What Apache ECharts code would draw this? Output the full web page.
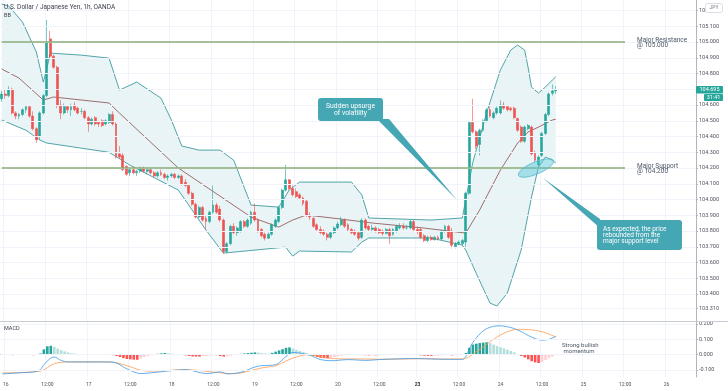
<!DOCTYPE html>
<html><head><meta charset="utf-8">
<script src="https://cdn.jsdelivr.net/npm/echarts@6/dist/echarts.min.js"></script>
<style>html,body{margin:0;padding:0;background:#fff}#c{width:728px;height:391px}</style>
</head><body><div id="c"></div>
<script>
// ---- data ----
const sessions = [[15,23,23],[16,0,23],[17,0,23],[18,0,23],[19,0,23],[20,0,20],[22,22,23],[23,0,23],[24,0,23],[25,0,23],[26,0,8]];
const weekStartDays = ['23'];
// candles: [open, high, low, close]
const candles = [
[104.64,104.69,104.62,104.67],[104.67,104.70,104.64,104.66],[104.66,104.72,104.65,104.70],[104.70,104.71,104.54,104.55],
[104.55,104.56,104.51,104.53],[104.53,104.55,104.51,104.54],[104.54,104.58,104.53,104.57],[104.57,104.60,104.55,104.59],
[104.59,104.60,104.52,104.53],[104.53,104.56,104.44,104.45],[104.45,104.46,104.36,104.38],[104.40,104.56,104.38,104.55],
[104.55,104.67,104.54,104.66],[104.66,105.14,104.65,105.00],[105.02,105.07,104.89,104.91],[104.91,104.92,104.83,104.84],
[104.84,104.85,104.58,104.60],[104.60,104.63,104.51,104.55],[104.55,104.61,104.54,104.59],[104.59,104.60,104.55,104.57],
[104.57,104.61,104.53,104.59],[104.60,104.62,104.56,104.57],[104.58,104.59,104.54,104.55],[104.56,104.58,104.54,104.56],
[104.56,104.57,104.51,104.52],[104.52,104.53,104.43,104.48],[104.48,104.52,104.47,104.51],[104.52,104.53,104.47,104.48],
[104.49,104.50,104.46,104.48],[104.50,104.51,104.46,104.47],[104.48,104.51,104.47,104.50],[104.49,104.55,104.48,104.54],
[104.54,104.56,104.47,104.48],[104.48,104.49,104.26,104.27],[104.29,104.34,104.26,104.27],[104.28,104.30,104.18,104.19],
[104.21,104.22,104.15,104.16],[104.17,104.20,104.15,104.19],[104.19,104.21,104.16,104.17],[104.17,104.19,104.15,104.18],
[104.18,104.21,104.17,104.20],[104.20,104.21,104.17,104.18],[104.18,104.20,104.16,104.19],[104.19,104.20,104.16,104.17],
[104.17,104.18,104.14,104.15],[104.15,104.18,104.14,104.17],[104.17,104.19,104.15,104.16],[104.16,104.17,104.13,104.14],
[104.14,104.16,104.12,104.15],[104.15,104.17,104.14,104.16],[104.16,104.17,104.13,104.14],[104.14,104.16,104.13,104.15],
[104.15,104.16,104.09,104.10],[104.11,104.13,104.08,104.09],[104.09,104.10,104.03,104.04],[104.04,104.05,103.96,103.97],
[103.97,103.98,103.88,103.89],[103.89,103.96,103.88,103.95],[103.95,103.96,103.86,103.87],[103.88,103.90,103.81,103.86],
[103.86,103.93,103.85,103.92],[103.92,104.09,103.91,103.965],[103.965,103.98,103.91,103.92],[103.94,103.96,103.86,103.87],
[103.87,103.88,103.655,103.67],[103.67,103.73,103.66,103.72],[103.72,103.84,103.71,103.83],[103.83,103.85,103.78,103.79],
[103.79,103.83,103.77,103.82],[103.80,103.87,103.79,103.86],[103.86,103.87,103.82,103.83],[103.83,103.88,103.82,103.87],
[103.85,103.93,103.84,103.92],[103.92,103.975,103.86,103.87],[103.87,103.88,103.79,103.80],[103.81,103.82,103.76,103.77],
[103.78,103.79,103.74,103.755],[103.755,103.79,103.75,103.78],[103.78,103.85,103.77,103.84],[103.83,103.88,103.82,103.87],
[103.86,103.96,103.85,103.95],[103.95,104.07,103.94,104.06],[104.06,104.22,104.05,104.125],[104.125,104.13,104.06,104.07],
[104.07,104.09,104.02,104.03],[104.05,104.07,104.01,104.02],[104.03,104.04,104.00,104.01],[104.01,104.02,103.96,103.975],
[103.99,104.00,103.89,103.90],[103.90,103.92,103.87,103.89],[103.88,103.89,103.82,103.83],[103.84,103.85,103.80,103.81],
[103.81,103.83,103.78,103.79],[103.80,103.81,103.77,103.78],[103.78,103.79,103.74,103.76],[103.76,103.80,103.75,103.79],
[103.79,103.83,103.78,103.82],[103.82,103.86,103.81,103.845],[103.84,103.89,103.83,103.87],[103.87,103.88,103.82,103.83],
[103.84,103.85,103.80,103.81],[103.81,103.82,103.78,103.79],[103.80,103.81,103.77,103.78],[103.79,103.80,103.74,103.755],
[103.76,103.88,103.75,103.87],[103.87,103.88,103.81,103.82],[103.83,103.84,103.80,103.81],[103.81,103.84,103.80,103.82],
[103.82,103.83,103.79,103.80],[103.81,103.82,103.78,103.79],[103.80,103.81,103.77,103.785],[103.785,103.82,103.78,103.81],
[103.81,103.82,103.72,103.77],[103.78,103.82,103.77,103.81],[103.80,103.84,103.79,103.83],[103.82,103.85,103.81,103.83],
[103.83,103.85,103.81,103.82],[103.82,103.84,103.81,103.82],[103.82,103.87,103.81,103.86],[103.86,103.87,103.80,103.81],
[103.81,103.83,103.78,103.80],[103.81,103.82,103.75,103.76],[103.77,103.78,103.73,103.74],[103.74,103.77,103.73,103.76],
[103.76,103.77,103.74,103.745],[103.745,103.77,103.74,103.76],[103.76,103.77,103.74,103.75],[103.75,103.81,103.74,103.80],
[103.80,103.84,103.79,103.83],[103.83,103.84,103.75,103.76],[103.80,103.82,103.69,103.71],[103.70,103.73,103.69,103.72],
[103.72,103.74,103.71,103.73],[103.72,103.75,103.71,103.74],[103.73,104.05,103.70,104.04],[104.04,104.50,104.03,104.49],
[104.49,104.64,104.42,104.43],[104.43,104.44,104.32,104.34],[104.35,104.45,104.28,104.44],[104.44,104.51,104.43,104.50],
[104.50,104.58,104.49,104.57],[104.57,104.59,104.52,104.53],[104.52,104.56,104.51,104.55],[104.55,104.59,104.54,104.58],
[104.55,104.63,104.54,104.60],[104.60,104.62,104.57,104.58],[104.59,104.60,104.56,104.57],[104.58,104.59,104.56,104.57],
[104.58,104.59,104.51,104.52],[104.515,104.52,104.43,104.44],[104.46,104.47,104.36,104.37],[104.37,104.47,104.36,104.46],
[104.45,104.48,104.44,104.47],[104.46,104.47,104.28,104.29],[104.30,104.31,104.24,104.25],[104.22,104.28,104.21,104.27],
[104.28,104.43,104.27,104.42],[104.42,104.55,104.41,104.54],[104.54,104.68,104.53,104.67],[104.675,104.73,104.66,104.69],
[104.69,104.72,104.67,104.695]
];
// Bollinger bands: [bar index, price]
const bbUpper = [[0,105.241],[2,105.229],[6,105.127],[10,104.937],[12,104.746],[13,104.83],[14,104.93],[23,104.917],[31,104.898],[34,104.695],[39,104.746],[46,104.644],[49,104.505],[52,104.34],[57,104.314],[63,104.314],[67,104.25],[72,103.965],[80,103.952],[83,104.06],[86,104.111],[101,104.111],[104,104.029],[106,103.883],[124,103.87],[133,103.883],[136,104.232],[140,104.549],[144,104.822],[147,104.949],[149,104.981],[151,104.949],[152,104.841],[153,104.714],[155,104.676],[157,104.714],[159,104.759],[160,104.78]];
const bbMiddle = [[0,104.829],[5,104.771],[12,104.632],[15,104.651],[31,104.613],[34,104.549],[51,104.20],[72,103.889],[80,103.825],[84,103.870],[88,103.902],[98,103.876],[107,103.851],[122,103.819],[134,103.787],[138,103.933],[144,104.187],[149,104.359],[152,104.429],[155,104.46],[159,104.505],[160,104.51]];
const bbLower = [[0,104.505],[7,104.44],[11,104.378],[13,104.359],[31,104.30],[37,104.219],[51,104.06],[59,103.806],[64,103.66],[82,103.698],[84,103.641],[86,103.673],[101,103.667],[104,103.73],[106,103.756],[124,103.756],[133,103.711],[134,103.68],[137,103.533],[141,103.343],[143,103.324],[146,103.406],[150,103.679],[153,104.016],[155,104.206],[157,104.27],[159,104.25],[160,104.232]];
const levels = [105.0, 104.2];
const levelEnd = 180;
const macdHist = [0.002,-0.002,0.003,-0.003,0.002,-0.002,0.003,0.002,-0.002,-0.003,0.002,0.008,0.035,0.055,0.058,0.052,0.04,0.03,0.022,0.015,0.01,0.007,0.004,0.003,0.002,-0.002,0.002,-0.002,0.002,-0.002,0.002,0.001,-0.003,-0.008,-0.015,-0.022,-0.028,-0.03,-0.032,-0.033,-0.025,-0.015,-0.008,-0.003,0.002,0.006,0.009,0.011,0.01,0.007,0.004,0.002,-0.002,-0.004,-0.008,-0.011,-0.012,-0.012,-0.01,-0.008,-0.005,-0.002,-0.003,-0.008,-0.012,-0.01,-0.006,-0.002,0.003,0.006,0.008,0.011,0.013,0.015,0.014,0.011,0.008,0.007,0.012,0.02,0.028,0.036,0.045,0.048,0.04,0.032,0.025,0.017,0.01,0.004,-0.008,-0.015,-0.02,-0.022,-0.024,-0.02,-0.014,-0.01,-0.006,-0.003,0.002,-0.002,0.002,-0.002,0.002,-0.003,-0.004,-0.003,-0.004,-0.003,-0.002,0.001,0.002,0.003,0.004,0.004,0.003,0.003,0.002,0.0005,-0.002,-0.004,-0.006,-0.007,-0.007,-0.006,-0.005,-0.003,-0.001,-0.002,-0.004,-0.003,-0.002,-0.001,0.012,0.045,0.066,0.072,0.076,0.079,0.081,0.075,0.066,0.056,0.048,0.041,0.033,0.024,0.015,0.005,-0.008,-0.018,-0.03,-0.042,-0.05,-0.054,-0.046,-0.035,-0.022,-0.012,0.004];
const macdLine = [[0,-0.125],[5,-0.118],[9,-0.112],[11,-0.097],[12,-0.065],[14,-0.022],[15,-0.015],[17,-0.037],[19,-0.047],[31,-0.047],[33,-0.054],[36,-0.092],[40,-0.123],[43,-0.118],[50,-0.101],[53,-0.097],[59,-0.123],[63,-0.112],[65,-0.125],[69,-0.114],[73,-0.08],[75,-0.071],[79,-0.065],[82,-0.011],[84,0.015],[86,0.011],[89,-0.004],[92,-0.032],[95,-0.039],[100,-0.032],[105,-0.037],[110,-0.03],[120,-0.025],[128,-0.03],[133,-0.03],[134,-0.01],[135,0.04],[136,0.08],[137,0.11],[138,0.135],[139,0.155],[140,0.17],[142,0.185],[144,0.188],[146,0.182],[148,0.17],[150,0.15],[152,0.125],[154,0.105],[156,0.095],[158,0.1],[160,0.12]];
const signalLine = [[0,-0.118],[11,-0.107],[15,-0.058],[19,-0.047],[31,-0.047],[36,-0.071],[40,-0.101],[44,-0.107],[53,-0.097],[63,-0.118],[67,-0.123],[75,-0.086],[79,-0.071],[84,-0.022],[88,0.0],[92,-0.011],[96,-0.026],[105,-0.028],[110,-0.03],[120,-0.026],[128,-0.028],[133,-0.028],[135,-0.012],[137,0.02],[139,0.05],[141,0.085],[143,0.115],[145,0.14],[147,0.158],[149,0.165],[151,0.165],[153,0.162],[155,0.155],[157,0.143],[160,0.115]];
const priceTicks = [105.2,105.1,105.0,104.9,104.8,104.7,104.6,104.5,104.4,104.3,104.2,104.1,104.0,103.9,103.8,103.7,103.6,103.5,103.4,103.31];
const macdTicks = [0.2,0.1,0.0,-0.1];
const lastPrice = '104.695', countdown = '31:41';

// ---- build ----
const cats = [];
sessions.forEach(s => { for (let h = s[1]; h <= s[2]; h++) cats.push(s[0] + ' ' + (h < 10 ? '0' + h : h) + ':00'); });
const hourOf = c => parseInt(c.split(' ')[1], 10);
const isMajor = (i) => { const h = hourOf(cats[i]); return h === 0 || h === 12; };
const fmtX = (v) => {
  const h = hourOf(v), d = v.split(' ')[0];
  if (h === 0) return weekStartDays.indexOf(d) >= 0 ? '{b|' + d + '}' : d;
  return h === 12 ? '12:00' : '';
};
const kData = candles.map(r => [r[0], r[3], r[2], r[1]]);
const histData = macdHist.map((v, i) => {
  const p = i > 0 ? macdHist[i - 1] : 0;
  const col = v >= 0 ? (v >= p ? '#26a69a' : '#b2dfdb') : (v <= p ? '#ff5252' : '#ffcdd2');
  return { value: v, itemStyle: { color: col } };
});
const FONT = 'Roboto';
const GRID = '#f0f3fa';
const TEAL = '#45a6b4';
const NOTE = '#4c5866';
const LEVEL = '#8aad78';

const chart = echarts.init(document.getElementById('c'), null, { renderer: 'canvas' });
const xBase = {
  type: 'category', data: cats, boundaryGap: true,
  axisTick: { show: false },
  splitLine: { show: true, interval: (i) => isMajor(i), lineStyle: { color: GRID, width: 1 } }
};
const gridLineSeries = (xi, ticks) => ({
  type: 'line', xAxisIndex: xi, yAxisIndex: xi, data: [], silent: true, z: 0,
  markLine: { silent: true, symbol: ['none', 'none'], label: { show: false }, animation: false,
    lineStyle: { color: GRID, width: 1, type: 'solid' }, data: ticks.map(v => ({ yAxis: v })) }
});
chart.setOption({
  animation: false,
  textStyle: { fontFamily: FONT },
  grid: [
    { left: 0, right: 32, top: 0, height: 321 },
    { left: 0, right: 32, top: 322, height: 55 }
  ],
  xAxis: [
    Object.assign({}, xBase, { gridIndex: 0, axisLine: { show: false }, axisLabel: { show: false } }),
    Object.assign({}, xBase, { gridIndex: 1, axisLine: { show: true, lineStyle: { color: '#b2b5be', width: 1 } },
      axisLabel: { show: true, interval: (i) => isMajor(i), formatter: fmtX, fontSize: 5, color: '#50535e', margin: 5,
        rich: { b: { fontSize: 5, fontWeight: 'bold', color: '#2a2e39' } } } })
  ],
  yAxis: [
    { type: 'value', gridIndex: 0, position: 'right', min: 103.229, max: 105.267, scale: true,
      axisLine: { show: true, lineStyle: { color: '#b2b5be' } },
      axisTick: { show: true, length: 2, customValues: priceTicks, lineStyle: { color: '#b2b5be' } },
      axisLabel: { show: true, customValues: priceTicks, formatter: v => v.toFixed(3), fontSize: 5.5, color: '#50535e', margin: 3 },
      splitLine: { show: false } },
    { type: 'value', gridIndex: 1, position: 'right', min: -0.145, max: 0.213,
      axisLine: { show: true, lineStyle: { color: '#b2b5be' } },
      axisTick: { show: true, length: 2, customValues: macdTicks, lineStyle: { color: '#b2b5be' } },
      axisLabel: { show: true, customValues: macdTicks, formatter: v => v.toFixed(3), fontSize: 5.5, color: '#50535e', margin: 3 },
      splitLine: { show: false } }
  ],
  series: [
    gridLineSeries(0, priceTicks),
    gridLineSeries(1, macdTicks),
    { type: 'custom', xAxisIndex: 0, yAxisIndex: 0, data: [0], silent: true, z: 1,
      renderItem: (params, api) => {
        const pts = bbUpper.map(d => api.coord(d)).concat(bbLower.slice().reverse().map(d => api.coord(d)));
        return { type: 'polygon', shape: { points: pts }, style: { fill: '#e9f4f6' } };
      } },
    { type: 'line', xAxisIndex: 0, yAxisIndex: 0, data: bbUpper, showSymbol: false, silent: true, z: 2,
      lineStyle: { color: '#3f9a9e', width: 0.9 } },
    { type: 'line', xAxisIndex: 0, yAxisIndex: 0, data: bbLower, showSymbol: false, silent: true, z: 2,
      lineStyle: { color: '#3f9a9e', width: 0.9 } },
    { type: 'line', xAxisIndex: 0, yAxisIndex: 0, data: bbMiddle, showSymbol: false, silent: true, z: 2,
      lineStyle: { color: '#8a4b4b', width: 0.8 } },
    { type: 'line', xAxisIndex: 0, yAxisIndex: 0, data: [], silent: true, z: 3,
      markLine: { silent: true, symbol: ['none', 'none'], label: { show: false }, animation: false,
        lineStyle: { color: LEVEL, width: 1.7, type: 'solid', opacity: 1 },
        data: levels.map(l => [{ coord: [0, l] }, { coord: [levelEnd, l] }]) } },
    { type: 'candlestick', xAxisIndex: 0, yAxisIndex: 0, data: kData, barWidth: 2.4, z: 4,
      itemStyle: { color: '#26a69a', color0: '#ef5350', borderColor: '#26a69a', borderColor0: '#ef5350', borderWidth: 0.6 } },
    { type: 'bar', xAxisIndex: 1, yAxisIndex: 1, data: histData, barWidth: 2.6, z: 2 },
    { type: 'line', xAxisIndex: 1, yAxisIndex: 1, data: signalLine, showSymbol: false, smooth: 0.3, silent: true, z: 3,
      lineStyle: { color: '#ff9a4d', width: 0.8 } },
    { type: 'line', xAxisIndex: 1, yAxisIndex: 1, data: macdLine, showSymbol: false, smooth: 0.3, silent: true, z: 3,
      lineStyle: { color: '#3d9be9', width: 0.8 } }
  ],
  graphic: [
    { type: 'line', shape: { x1: 0, y1: 321.5, x2: 728, y2: 321.5 }, style: { stroke: '#c9ccd3', lineWidth: 1 }, z: 10 },
    { type: 'text', x: 4, y: 3.5, style: { text: 'U.S. Dollar / Japanese Yen, 1h, OANDA', fontSize: 6.5, fontFamily: FONT, fill: '#3a3e4a' }, z: 10 },
    { type: 'text', x: 4, y: 13, style: { text: 'BB', fontSize: 5.5, fontFamily: FONT, fill: '#3a3e4a' }, z: 10 },
    { type: 'text', x: 4, y: 326, style: { text: 'MACD', fontSize: 5.5, fontFamily: FONT, fill: '#3a3e4a' }, z: 10 },
    { type: 'rect', shape: { x: 705.5, y: 3.5, width: 17, height: 9, r: 2 }, style: { fill: '#fff', stroke: '#d1d4dc', lineWidth: 0.8 }, z: 10 },
    { type: 'text', x: 714, y: 8, style: { text: 'JPY', fontSize: 5, fontFamily: FONT, fill: '#787b86', align: 'center', verticalAlign: 'middle' }, z: 11 },
    { type: 'rect', shape: { x: 696, y: 86, width: 27, height: 7.5, r: 1 }, style: { fill: '#26a69a' }, z: 10 },
    { type: 'text', x: 709.5, y: 89.8, style: { text: lastPrice, fontSize: 5.5, fontFamily: FONT, fill: '#fff', align: 'center', verticalAlign: 'middle' }, z: 11 },
    { type: 'rect', shape: { x: 704, y: 94, width: 19, height: 7, r: 1 }, style: { fill: '#26a69a' }, z: 10 },
    { type: 'text', x: 713.5, y: 97.5, style: { text: countdown, fontSize: 5.5, fontFamily: FONT, fill: '#fff', align: 'center', verticalAlign: 'middle' }, z: 11 },
    { type: 'text', x: 637, y: 37, style: { text: 'Major Resistance\n@ 105.000', fontSize: 6.5, lineHeight: 5.8, fontFamily: FONT, fill: NOTE }, z: 10 },
    { type: 'text', x: 637, y: 163, style: { text: 'Major Support\n@ 104.200', fontSize: 6.5, lineHeight: 5.8, fontFamily: FONT, fill: NOTE }, z: 10 },
    { type: 'text', x: 562, y: 342.5, style: { text: 'Strong bullish\n momentum', fontSize: 6, lineHeight: 6, fontFamily: FONT, fill: NOTE }, z: 10 },
    { type: 'polygon', shape: { points: [[377, 119], [389, 119], [457, 200]] }, style: { fill: TEAL }, z: 10 },
    { type: 'rect', shape: { x: 318, y: 98, width: 65, height: 23, r: 3 }, style: { fill: TEAL }, z: 11 },
    { type: 'text', x: 350.5, y: 109.5, style: { text: 'Sudden upsurge\nof volatility', fontSize: 6.8, lineHeight: 7, fontFamily: FONT, fill: '#fff', align: 'center', verticalAlign: 'middle' }, z: 12 },
    { type: 'ellipse', x: 536, y: 168, rotation: 0.4, shape: { cx: 0, cy: 0, rx: 19, ry: 6 }, style: { fill: 'rgba(80,196,214,0.45)', stroke: '#5bbccc', lineWidth: 0.8 }, z: 10 },
    { type: 'polygon', shape: { points: [[543, 178], [600, 219], [600, 228]] }, style: { fill: TEAL }, z: 10 },
    { type: 'rect', shape: { x: 597, y: 220, width: 85, height: 30, r: 3 }, style: { fill: TEAL }, z: 11 },
    { type: 'text', x: 603, y: 235.5, style: { text: 'As expected, the price\nrebounded from the\nmajor support level', fontSize: 6.5, lineHeight: 6.3, fontFamily: FONT, fill: '#fff', verticalAlign: 'middle' }, z: 12 }
  ]
});
</script></body></html>
